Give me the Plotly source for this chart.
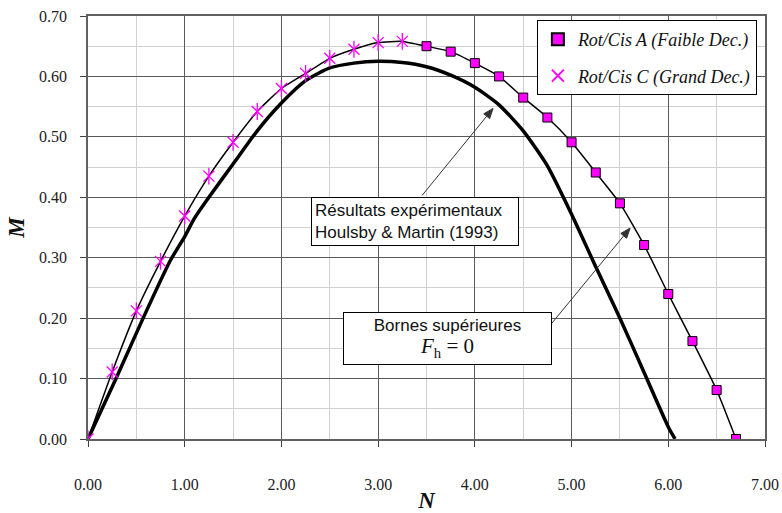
import plotly.graph_objects as go

# ---- data ----
n_cis_c = [0.0, 0.25, 0.50, 0.75, 1.00, 1.25, 1.50, 1.75, 2.00, 2.25, 2.50, 2.75, 3.00, 3.25]
m_cis_c = [0.0, 0.111, 0.212, 0.294, 0.369, 0.435, 0.491, 0.542, 0.580, 0.605, 0.630, 0.645, 0.656, 0.658]

n_cis_a = [3.50, 3.75, 4.00, 4.25, 4.50, 4.75, 5.00, 5.25, 5.50, 5.75, 6.00, 6.25, 6.50, 6.70]
m_cis_a = [0.650, 0.641, 0.622, 0.600, 0.565, 0.532, 0.491, 0.441, 0.390, 0.321, 0.240, 0.162, 0.081, 0.0]

n_exp = [0.0, 0.29, 0.57, 0.85, 1.00, 1.10, 1.25, 1.50, 1.75, 2.00, 2.25, 2.50, 2.75, 3.00,
         3.25, 3.50, 3.75, 4.00, 4.25, 4.50, 4.75, 5.00, 5.25, 5.50, 5.75, 6.00, 6.07]
m_exp = [0.0, 0.10, 0.20, 0.295, 0.335, 0.365, 0.40, 0.455, 0.51, 0.556, 0.593, 0.614, 0.622, 0.625,
         0.623, 0.616, 0.602, 0.582, 0.553, 0.510, 0.452, 0.372, 0.285, 0.200, 0.110, 0.020, 0.0]

x_ticks = [0, 1, 2, 3, 4, 5, 6, 7]
x_tick_labels = ["0.00", "1.00", "2.00", "3.00", "4.00", "5.00", "6.00", "7.00"]
y_ticks = [0.0, 0.1, 0.2, 0.3, 0.4, 0.5, 0.6, 0.7]
y_tick_labels = ["0.00", "0.10", "0.20", "0.30", "0.40", "0.50", "0.60", "0.70"]

legend_a = "Rot/Cis A (Faible Dec.)"
legend_c = "Rot/Cis C (Grand Dec.)"
box1_text = "Résultats expérimentaux<br>Houlsby & Martin (1993)"
box2_line1 = "Bornes supérieures"

SERIF = "Liberation Serif"
SANS = "Liberation Sans"
MAG = "#ff00ff"

W, H = 782, 513
ML, MR, MT, MB = 88, 17, 16, 74
XR = (0.0, 7.0)
YR = (0.0, 0.7)
PW, PH = W - ML - MR, H - MT - MB


def to_px(x, y):
    return (ML + (x - XR[0]) / (XR[1] - XR[0]) * PW,
            MT + PH - (y - YR[0]) / (YR[1] - YR[0]) * PH)


def to_data(px, py):
    return (XR[0] + (px - ML) / PW * (XR[1] - XR[0]),
            YR[0] + (MT + PH - py) / PH * (YR[1] - YR[0]))


fig = go.Figure()

# experimental curve (thick)
fig.add_trace(go.Scatter(x=n_exp, y=m_exp, mode="lines",
                         line=dict(color="black", width=3.5, shape="spline", smoothing=0.6),
                         showlegend=False, hoverinfo="skip"))

# upper bound line through both series
fig.add_trace(go.Scatter(x=n_cis_c + n_cis_a, y=m_cis_c + m_cis_a, mode="lines",
                         line=dict(color="black", width=1.5, shape="spline", smoothing=0.5),
                         showlegend=False, hoverinfo="skip"))

# series A squares
fig.add_trace(go.Scatter(x=n_cis_a, y=m_cis_a, mode="markers", name=legend_a,
                         legendgroup="a",
                         marker=dict(symbol="square", size=9, color=MAG,
                                     line=dict(color="black", width=1))))

# series C asterisks (x + vertical bar overlay)
fig.add_trace(go.Scatter(x=n_cis_c, y=m_cis_c, mode="markers", name=legend_c,
                         legendgroup="c",
                         marker=dict(symbol="x-thin-open", size=11, color=MAG,
                                     line=dict(color=MAG, width=1.3))))
fig.add_trace(go.Scatter(x=n_cis_c, y=m_cis_c, mode="markers", showlegend=False,
                         legendgroup="c", hoverinfo="skip",
                         marker=dict(symbol="line-ns-open", size=12, color=MAG,
                                     line=dict(color=MAG, width=1.3))))

axis_common = dict(
    showline=True, linecolor="#606060", linewidth=1.5, mirror=True,
    ticks="outside", ticklen=6, tickcolor="#404040", tickwidth=1,
    showgrid=True, gridcolor="#5a5a5a", gridwidth=1,
    zeroline=False, automargin=False,
    tickfont=dict(family=SERIF, size=16, color="#222"),
)

fig.update_xaxes(range=list(XR), tickvals=x_ticks, ticktext=x_tick_labels,
                 minor=dict(dtick=0.5, showgrid=True, gridcolor="#d0d0d0", gridwidth=1, ticks=""),
                 ticklabelstandoff=24,
                 title=dict(text="<b><i>N</i></b>", font=dict(family=SERIF, size=23, color="#111"),
                            standoff=8),
                 **axis_common)
fig.update_yaxes(range=list(YR), tickvals=y_ticks, ticktext=y_tick_labels,
                 minor=dict(dtick=0.05, showgrid=True, gridcolor="#d0d0d0", gridwidth=1, ticks=""),
                 ticklabelstandoff=10,
                 title=dict(text="<b><i>M</i></b>", font=dict(family=SERIF, size=23, color="#111"),
                            standoff=8),
                 **axis_common)

# text boxes
fig.add_annotation(x=3.382, y=0.360, xref="x", yref="y", text=box1_text, showarrow=False,
                   font=dict(family=SANS, size=17, color="#111"), align="left",
                   width=200, bgcolor="white", bordercolor="black", borderwidth=1, borderpad=3)
fig.add_annotation(x=3.718, y=0.167, xref="x", yref="y",
                   text=box2_line1 + "<br><span style='font-family:Liberation Serif;font-size:21px;color:#111'>"
                        "<i>F</i><sub>h</sub> = 0</span>",
                   showarrow=False, font=dict(family=SANS, size=17, color="#111"), align="center",
                   width=201, bgcolor="white", bordercolor="black", borderwidth=1, borderpad=3)

# arrows (line + filled head) drawn as shapes
arrows = [((3.454, 0.403), (4.188, 0.547)),
          ((4.798, 0.192), (5.605, 0.349))]
for (tx, ty), (hx, hy) in arrows:
    tpx, tpy = to_px(tx, ty)
    hpx, hpy = to_px(hx, hy)
    dx, dy = hpx - tpx, hpy - tpy
    L = (dx * dx + dy * dy) ** 0.5
    ux, uy = dx / L, dy / L
    hl, hw = 10.0, 3.8
    bx, by = hpx - ux * hl, hpy - uy * hl
    p1 = to_data(bx + uy * hw, by - ux * hw)
    p2 = to_data(bx - uy * hw, by + ux * hw)
    base = to_data(bx, by)
    fig.add_shape(type="line", x0=tx, y0=ty, x1=base[0], y1=base[1], xref="x", yref="y",
                  line=dict(color="#333", width=1))
    fig.add_shape(type="path", xref="x", yref="y",
                  path=f"M{hx},{hy} L{p1[0]},{p1[1]} L{p2[0]},{p2[1]} Z",
                  fillcolor="#333", line=dict(color="#333", width=1))

fig.update_layout(
    width=W, height=H,
    margin=dict(l=ML, r=MR, t=MT, b=MB),
    plot_bgcolor="white", paper_bgcolor="white",
    legend=dict(x=0.988, y=0.9905, xanchor="right", yanchor="top",
                bgcolor="white", bordercolor="black", borderwidth=1,
                font=dict(family=SERIF, size=18, color="#111", style="italic"),
                traceorder="grouped", tracegroupgap=10, itemsizing="constant"),
)

fig.write_html("out.html", config={"displayModeBar": False},
               post_script="document.body.style.margin='0';document.body.style.padding='0';")
